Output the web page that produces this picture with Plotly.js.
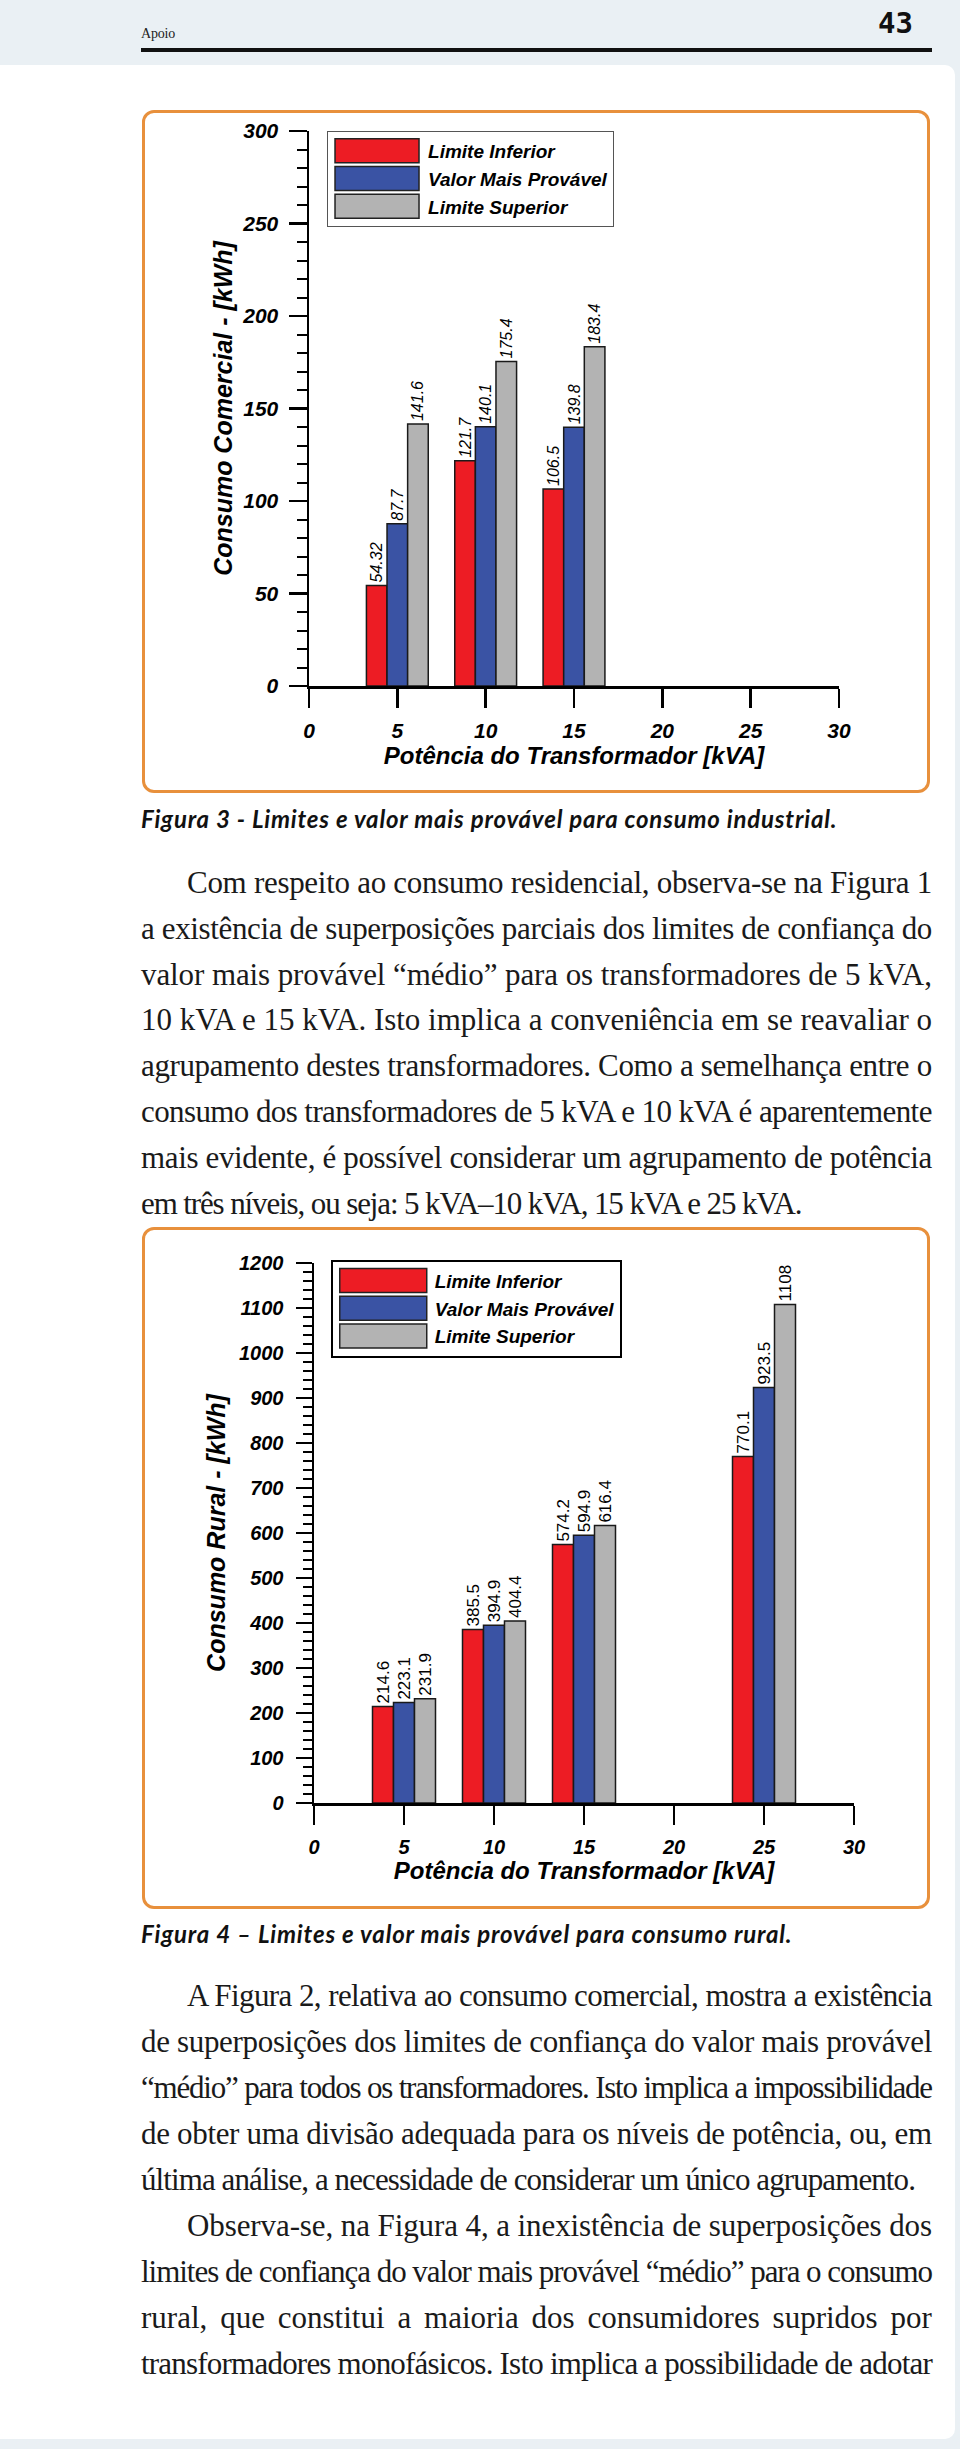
<!DOCTYPE html>
<html>
<head>
<meta charset="utf-8">
<script src="https://cdn.plot.ly/plotly-3.0.1.min.js"></script>
<style>
  html, body { margin:0; padding:0; }
  body { width:960px; height:2449px; background:#eaf0f4; position:relative; overflow:hidden; }
  #page { position:absolute; left:0; top:65px; width:955px; height:2374px; background:#ffffff; border-radius:0 10px 10px 0; }
  .frame { position:absolute; box-sizing:border-box; border:3px solid #e8903c; border-radius:12px; background:#fff; }
  .chart { position:absolute; }
  #txt { position:absolute; left:0; top:0; pointer-events:none; }
</style>
</head>
<body>
<div id="page"></div>
<div class="frame" style="left:142px; top:110px; width:788px; height:683px;"></div>
<div class="frame" style="left:142px; top:1227px; width:788px; height:682px;"></div>
<div id="c1" class="chart" style="left:145px; top:113px; width:782px; height:677px;"></div>
<div id="c2" class="chart" style="left:145px; top:1230px; width:782px; height:676px;"></div>
<svg id="txt" width="960" height="2449" xmlns="http://www.w3.org/2000/svg"></svg>
<script>
// ---------------- DATA ----------------
const seriesNames = ['Limite Inferior', 'Valor Mais Provável', 'Limite Superior'];
const kvaComercial = [5, 10, 15];
const inferiorComercial = [54.32, 121.7, 106.5];
const provavelComercial = [87.7, 140.1, 139.8];
const superiorComercial = [141.6, 175.4, 183.4];

const kvaRural = [5, 10, 15, 25];
const inferiorRural = [214.6, 385.5, 574.2, 770.1];
const provavelRural = [223.1, 394.9, 594.9, 923.5];
const superiorRural = [231.9, 404.4, 616.4, 1108];

const xTickVals = [0, 5, 10, 15, 20, 25, 30];
const xTickText = ['0', '5', '10', '15', '20', '25', '30'];
const yTickVals1 = [0, 50, 100, 150, 200, 250, 300];
const yTickText1 = ['0', '50', '100', '150', '200', '250', '300'];
const yTickVals2 = [0, 100, 200, 300, 400, 500, 600, 700, 800, 900, 1000, 1100, 1200];
const yTickText2 = ['0', '100', '200', '300', '400', '500', '600', '700', '800', '900', '1000', '1100', '1200'];

const barColors = ['#ed1c24', '#3a53a4', '#b3b3b3'];

// ---------------- CHARTS ----------------
const SANS = 'Liberation Sans, Arial, Helvetica, sans-serif';

function makeTraces(x, seriesList, labelFont) {
  return seriesList.map((y, i) => ({
    type: 'bar',
    x: x,
    y: y,
    name: seriesNames[i],
    marker: { color: barColors[i], line: { color: '#1a1a1a', width: 1.5 } },
    text: y.map(v => String(v)),
    textposition: 'outside',
    textangle: -90,
    textfont: labelFont,
    constraintext: 'none',
    cliponaxis: false,
    hoverinfo: 'skip'
  }));
}

function axisBase(tickSize) {
  return {
    showline: true, linecolor: '#000', linewidth: 2.5,
    ticks: 'outside', tickcolor: '#000', tickwidth: 2.5,
    tickfont: { family: SANS, size: tickSize, weight: 'bold', style: 'italic', color: '#000' },
    showgrid: false, zeroline: false, fixedrange: true
  };
}

const layout1 = {
  width: 782, height: 677,
  margin: { l: 164, r: 88, t: 18, b: 104 },
  paper_bgcolor: 'rgba(0,0,0,0)', plot_bgcolor: 'rgba(0,0,0,0)',
  barmode: 'group', bargap: 0.3, bargroupgap: 0,
  font: { family: SANS, color: '#000' },
  xaxis: Object.assign(axisBase(21), {
    range: [0, 30], tickmode: 'array', tickvals: xTickVals, ticktext: xTickText,
    ticklen: 19, ticklabelstandoff: 5,
    title: { text: 'Potência do Transformador [kVA]', font: { family: SANS, size: 24, weight: 'bold', style: 'italic', color: '#000' }, standoff: 2 }
  }),
  yaxis: Object.assign(axisBase(21), {
    range: [0, 300], tickmode: 'array', tickvals: yTickVals1, ticktext: yTickText1,
    ticklen: 18, ticklabelstandoff: 6,
    minor: { tickmode: 'linear', tick0: 0, dtick: 10, ticks: 'outside', ticklen: 10, tickwidth: 2, tickcolor: '#000', showgrid: false },
    title: { text: 'Consumo Comercial - [kWh]', font: { family: SANS, size: 25, weight: 'bold', style: 'italic', color: '#000' }, standoff: 3 }
  }),
  showlegend: true,
  legend: {
    x: 0.034, y: 1.0, xanchor: 'left', yanchor: 'top',
    bgcolor: '#ffffff', bordercolor: '#555555', borderwidth: 1,
    font: { family: SANS, size: 19, weight: 'bold', style: 'italic', color: '#000' },
    itemwidth: 90, traceorder: 'normal', itemclick: false, itemdoubleclick: false
  }
};

const layout2 = {
  width: 782, height: 676,
  margin: { l: 169, r: 73, t: 33, b: 103 },
  paper_bgcolor: 'rgba(0,0,0,0)', plot_bgcolor: 'rgba(0,0,0,0)',
  barmode: 'group', bargap: 0.3, bargroupgap: 0,
  font: { family: SANS, color: '#000' },
  xaxis: Object.assign(axisBase(20), {
    range: [0, 30], tickmode: 'array', tickvals: xTickVals, ticktext: xTickText,
    ticklen: 19, ticklabelstandoff: 5,
    title: { text: 'Potência do Transformador [kVA]', font: { family: SANS, size: 24, weight: 'bold', style: 'italic', color: '#000' }, standoff: 0 }
  }),
  yaxis: Object.assign(axisBase(20), {
    range: [0, 1200], tickmode: 'array', tickvals: yTickVals2, ticktext: yTickText2,
    ticklen: 16, ticklabelstandoff: 8,
    minor: { tickmode: 'linear', tick0: 0, dtick: 20, ticks: 'outside', ticklen: 9, tickwidth: 2, tickcolor: '#000', showgrid: false },
    title: { text: 'Consumo Rural - [kWh]', font: { family: SANS, size: 25, weight: 'bold', style: 'italic', color: '#000' }, standoff: 7 }
  }),
  showlegend: true,
  legend: {
    x: 0.031, y: 1.006, xanchor: 'left', yanchor: 'top',
    bgcolor: '#ffffff', bordercolor: '#000000', borderwidth: 2,
    font: { family: SANS, size: 19, weight: 'bold', style: 'italic', color: '#000' },
    itemwidth: 92, traceorder: 'normal', itemclick: false, itemdoubleclick: false
  }
};

const traces1 = makeTraces(kvaComercial, [inferiorComercial, provavelComercial, superiorComercial],
  { family: SANS, size: 16, style: 'italic', color: '#000' });
const traces2 = makeTraces(kvaRural, [inferiorRural, provavelRural, superiorRural],
  { family: SANS, size: 17, color: '#000' });

function fixLegend(gd, swW, gap) {
  gd.querySelectorAll('.legend .traces').forEach(tr => {
    const txt = tr.querySelector('.legendtext');
    const p = tr.querySelector('.legendpoints path');
    if (!txt || !p) return;
    const tb = txt.getBoundingClientRect();
    const pb = p.getBoundingClientRect();
    const cx = (pb.left + pb.right) / 2;
    const right = tb.left - gap, left = right - swW;
    const l = (left - cx).toFixed(1), r = (right - cx).toFixed(1);
    p.setAttribute('d', 'M' + l + ',-12H' + r + 'V12H' + l + 'Z');
    p.style.strokeWidth = '1.5px';
    p.style.stroke = '#222';
  });
}

const cfg = { displayModeBar: false, staticPlot: true };
Plotly.newPlot('c1', traces1, layout1, cfg).then(gd => fixLegend(gd, 84, 9));
Plotly.newPlot('c2', traces2, layout2, cfg).then(gd => fixLegend(gd, 87, 8));

// ---------------- PAGE TEXT ----------------
const svg = document.getElementById('txt');
const NS = 'http://www.w3.org/2000/svg';
function addText(str, x, y, opts) {
  const t = document.createElementNS(NS, 'text');
  t.setAttribute('x', x); t.setAttribute('y', y);
  t.setAttribute('font-family', opts.family);
  t.setAttribute('font-size', opts.size);
  if (opts.weight) t.setAttribute('font-weight', opts.weight);
  if (opts.style) t.setAttribute('font-style', opts.style);
  if (opts.anchor) t.setAttribute('text-anchor', opts.anchor);
  t.setAttribute('fill', opts.fill || '#111');
  t.textContent = str;
  svg.appendChild(t);
  if (opts.width) {
    const target = opts.width;
    const n = str.length;
    const spaces = (str.match(/ /g) || []).length;
    let w = t.getComputedTextLength();
    if (w > target) {
      let ls = -(w - target) / n;
      t.setAttribute('letter-spacing', ls.toFixed(3));
      w = t.getComputedTextLength();
      if (w > target) { ls -= (w - target) / n + 0.01; t.setAttribute('letter-spacing', ls.toFixed(3)); w = t.getComputedTextLength(); }
    }
    if (w < target - 0.5) {
      if (opts.justify && spaces > 0) {
        t.setAttribute('word-spacing', ((target - w) / spaces - 0.02).toFixed(3));
      } else if (!opts.justify) {
        const cur = parseFloat(t.getAttribute('letter-spacing') || '0');
        t.setAttribute('letter-spacing', (cur + (target - w) / n - 0.01).toFixed(3));
      }
    }
  }
  return t;
}

// header
addText('Apoio', 141, 38, { family: 'Liberation Serif, Times New Roman, serif', size: 14, width: 34, fill: '#222' });
addText('43', 913, 33, { family: 'DejaVu Sans Mono, monospace', size: 29, weight: 'bold', anchor: 'end', fill: '#111' });
const rule = document.createElementNS(NS, 'rect');
rule.setAttribute('x', 141); rule.setAttribute('y', 48); rule.setAttribute('width', 791); rule.setAttribute('height', 4); rule.setAttribute('fill', '#111');
svg.appendChild(rule);

// captions
const CAP = { family: 'Lato, Open Sans, sans-serif', size: 24, weight: 'bold', style: 'italic', fill: '#111' };
addText('Figura 3 - Limites e valor mais provável para consumo industrial.', 141, 828, Object.assign({ width: 697 }, CAP));
addText('Figura 4 – Limites e valor mais provável para consumo rural.', 141, 1943, Object.assign({ width: 652 }, CAP));

// body text
const SERIF = { family: 'Liberation Serif, Times New Roman, serif', size: 31, fill: '#1a1a1a' };
const L = 141, R = 932, IND = 187;
const para1 = [
  'Com respeito ao consumo residencial, observa-se na Figura 1',
  'a existência de superposições parciais dos limites de confiança do',
  'valor mais provável “médio” para os transformadores de 5 kVA,',
  '10 kVA e 15 kVA. Isto implica a conveniência em se reavaliar o',
  'agrupamento destes transformadores. Como a semelhança entre o',
  'consumo dos transformadores de 5 kVA e 10 kVA é aparentemente',
  'mais evidente, é possível considerar um agrupamento de potência',
  'em três níveis, ou seja: 5 kVA–10 kVA, 15 kVA e 25 kVA.'
];
const para2 = [
  'A Figura 2, relativa ao consumo comercial, mostra a existência',
  'de superposições dos limites de confiança do valor mais provável',
  '“médio” para todos os transformadores. Isto implica a impossibilidade',
  'de obter uma divisão adequada para os níveis de potência, ou, em',
  'última análise, a necessidade de considerar um único agrupamento.'
];
const para3 = [
  'Observa-se, na Figura 4, a inexistência de superposições dos',
  'limites de confiança do valor mais provável “médio” para o consumo',
  'rural, que constitui a maioria dos consumidores supridos por',
  'transformadores monofásicos. Isto implica a possibilidade de adotar'
];
function drawPara(lines, y0, step, lastRight, lastJustified) {
  lines.forEach((s, i) => {
    const x = i === 0 ? IND : L;
    const isLast = i === lines.length - 1;
    const right = (isLast && !lastJustified) ? lastRight : R;
    addText(s, x, (y0 + i * step).toFixed(1), Object.assign({ width: right - x, justify: !(isLast && !lastJustified) }, SERIF));
  });
}
drawPara(para1, 893, 45.8, 802, false);
drawPara(para2, 2006, 46, 915, false);
drawPara(para3, 2006 + 5 * 46, 46, R, true);
</script>
</body>
</html>
